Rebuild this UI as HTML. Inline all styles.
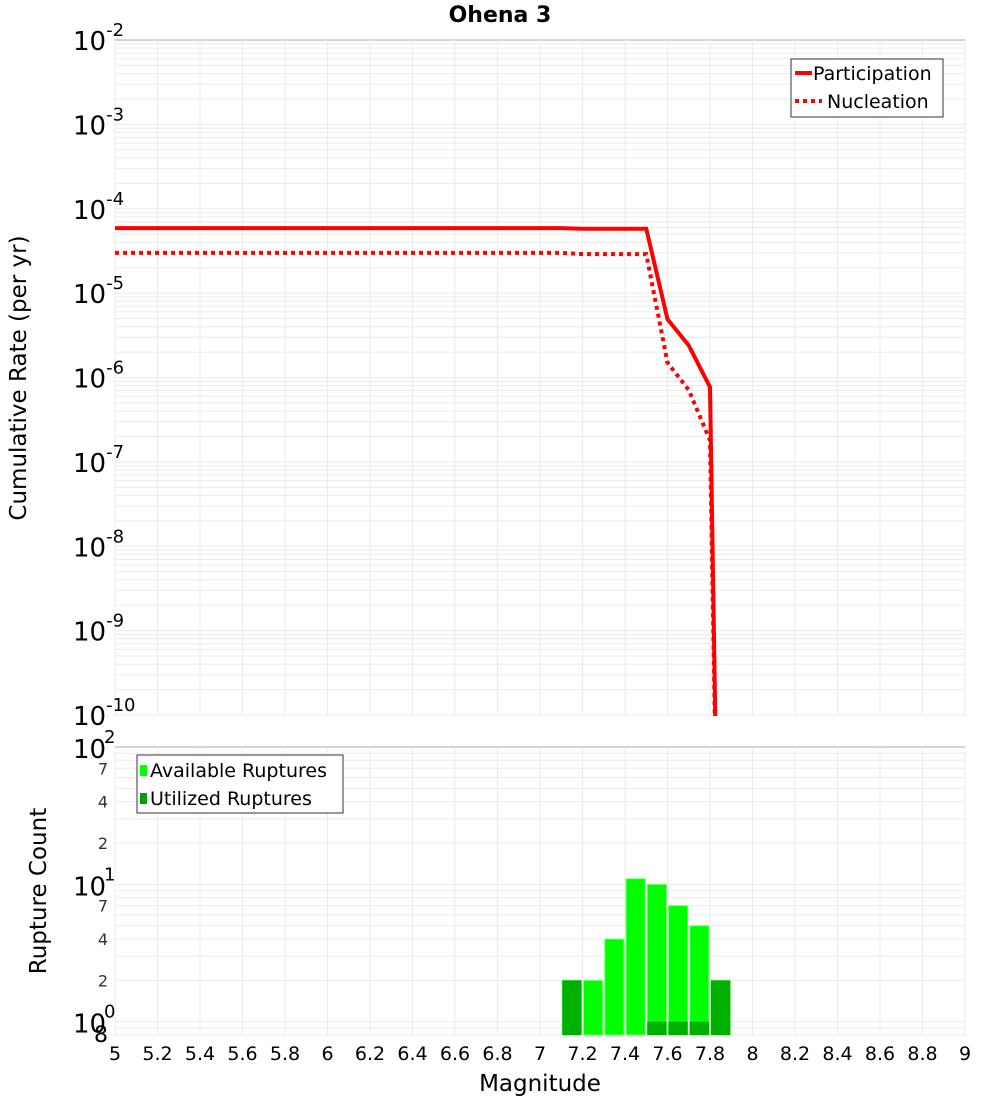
<!DOCTYPE html>
<html><head><meta charset="utf-8"><style>
body{margin:0;background:#fff;font-family:"DejaVu Sans","Liberation Sans",sans-serif;}
svg text{font-family:"DejaVu Sans","Liberation Sans",sans-serif;}
</style></head><body>
<svg id="c" width="1000" height="1100" xmlns="http://www.w3.org/2000/svg"></svg>
<script>
const partMags=[5.0,7.1,7.2,7.5,7.6,7.7,7.8,7.85];
const partVals=[5.9e-5,5.9e-5,5.8e-5,5.8e-5,4.9e-6,2.4e-6,7.7e-7,1e-14];
const nuclMags=[5.0,7.1,7.2,7.5,7.6,7.7,7.8,7.85];
const nuclVals=[3.0e-5,3.0e-5,2.9e-5,2.9e-5,1.5e-6,7.1e-7,1.8e-7,1e-14];
const binCenters=[7.15,7.25,7.35,7.45,7.55,7.65,7.75,7.85];
const availCounts=[2,2,4,11,10,7,5,2];
const usedCounts=[2,0,0,0,1,1,1,2];
const xTicks=[5,5.2,5.4,5.6,5.8,6,6.2,6.4,6.6,6.8,7,7.2,7.4,7.6,7.8,8,8.2,8.4,8.6,8.8,9];
const topExps=[-2,-3,-4,-5,-6,-7,-8,-9,-10];
const botMinor=[7,4,2];

const NS="http://www.w3.org/2000/svg";
const svg=document.getElementById('c');
function mk(t,a,p){const e=document.createElementNS(NS,t);for(const k in a)e.setAttribute(k,a[k]);(p||svg).appendChild(e);return e;}
const L=115,R=965,T1=40,B1=715,T2=747,B2=1035;
const x=m=>L+(m-5)/4*(R-L);
const y1=v=>B1-(Math.log10(v)+10)/8*(B1-T1);
const dec2=(B2-T2)/(2-Math.log10(0.8));
const y2=v=>T2+(2-Math.log10(v))*dec2;

const bg1=mk('rect',{x:L,y:T1,width:R-L,height:B1-T1,fill:'#fff',stroke:'#aaa'});

const bg2=mk('rect',{x:L,y:T2,width:R-L,height:B2-T2,fill:'#fff',stroke:'#aaa'});


const grid=mk('g',{stroke:'#ebebeb','stroke-width':1});

xTicks.forEach(m=>{mk('line',{x1:x(m),x2:x(m),y1:T1,y2:B1},grid);mk('line',{x1:x(m),x2:x(m),y1:T2,y2:B2},grid);});
for(let e=-10;e<-2;e++)for(let k=1;k<10;k++){const yy=y1(k*Math.pow(10,e));mk('line',{x1:L,x2:R,y1:yy,y2:yy},grid);}
for(let e=-1;e<2;e++)for(let k=1;k<10;k++){const v=k*Math.pow(10,e);if(v<0.8)continue;const yy=y2(v);mk('line',{x1:L,x2:R,y1:yy,y2:yy},grid);}

topExps.forEach(e=>{const yy=y1(Math.pow(10,e));
 const t=mk('text',{x:73,y:yy+10,'text-anchor':'start','font-size':26,fill:'#000'});
 
 t.textContent='10';const s=mk('tspan',{dy:-14,'font-size':18},t);s.textContent=String(e);});
[2,1,0].forEach(e=>{const yy=y2(Math.pow(10,e));
 const t=mk('text',{x:73,y:yy+11,'text-anchor':'start','font-size':26,fill:'#000'});
 
 t.textContent='10';const s=mk('tspan',{x:104,dy:-15,'font-size':18},t);s.textContent=String(e);
 if(e>0)botMinor.forEach(k=>{const v=k*Math.pow(10,e-1);const m=mk('text',{x:108,y:y2(v)+6,'text-anchor':'end','font-size':16,fill:'#333'});
  m.textContent=String(k);});
});
const e8=mk('text',{x:108,y:1042,'text-anchor':'end','font-size':22,fill:'#000'});
e8.textContent='8';

xTicks.forEach(m=>{const t=mk('text',{x:x(m),y:1060,'text-anchor':'middle','font-size':19,fill:'#000'});
 t.textContent=String(m);});

const bw=(x(5.1)-x(5))-2;
binCenters.forEach((c,i)=>{
 const b=mk('rect',{x:x(c)-bw/2,y:y2(availCounts[i]),width:bw,height:B2-y2(availCounts[i]),fill:'#00ff00',stroke:'#7fff7f','stroke-width':1});
 
 if(usedCounts[i]>0){const u=mk('rect',{x:x(c)-bw/2,y:y2(usedCounts[i]),width:bw,height:B2-y2(usedCounts[i]),fill:'#00b000'});
 }
});

const cp=mk('clipPath',{id:'cp1'});mk('rect',{x:L,y:T1,width:R-L,height:B1-T1+1},cp);
function pts(ms,vs){return ms.map((m,i)=>x(m)+','+y1(vs[i])).join(' ');}
const pl=mk('polyline',{points:pts(partMags,partVals),fill:'none',stroke:'#ff0000','stroke-width':4,'clip-path':'url(#cp1)'});

const nl=mk('polyline',{points:pts(nuclMags,nuclVals),fill:'none',stroke:'#ff0000','stroke-width':4,'stroke-dasharray':'4 4','clip-path':'url(#cp1)'});


const lg=mk('g',{});
mk('rect',{x:791,y:59,width:152,height:58,fill:'#fff',stroke:'#333'},lg);
mk('line',{x1:795,x2:812,y1:73,y2:73,stroke:'#f00','stroke-width':4},lg);
mk('line',{x1:795,x2:822,y1:101,y2:101,stroke:'#f00','stroke-width':4,'stroke-dasharray':'4 4'},lg);
let t=mk('text',{x:813,y:80,'font-size':19},lg);t.textContent='Participation';
t=mk('text',{x:827,y:108,'font-size':19},lg);t.textContent='Nucleation';
const lg2=mk('g',{});
mk('rect',{x:137,y:755,width:206,height:58,fill:'#fff',stroke:'#333'},lg2);
mk('rect',{x:140,y:765,width:7,height:11,fill:'#00ff00'},lg2);
mk('rect',{x:140,y:793,width:7,height:11,fill:'#00a000'},lg2);
t=mk('text',{x:150,y:777,'font-size':19},lg2);t.textContent='Available Ruptures';
t=mk('text',{x:150,y:805,'font-size':19},lg2);t.textContent='Utilized Ruptures';

t=mk('text',{x:500,y:22,'text-anchor':'middle','font-size':22,'font-weight':'bold'});t.textContent='Ohena 3';

t=mk('text',{x:540,y:1091,'text-anchor':'middle','font-size':23});t.textContent='Magnitude';

t=mk('text',{x:0,y:0,'text-anchor':'middle','font-size':23,transform:'translate(26,378) rotate(-90)'});t.textContent='Cumulative Rate (per yr)';

t=mk('text',{x:0,y:0,'text-anchor':'middle','font-size':23,transform:'translate(46,891) rotate(-90)'});t.textContent='Rupture Count';

</script>
</body></html>
